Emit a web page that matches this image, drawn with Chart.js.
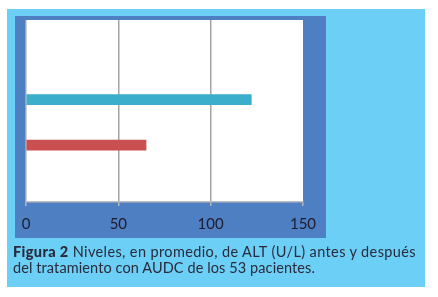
<!DOCTYPE html>
<html>
<head>
<meta charset="utf-8">
<script src="https://cdn.jsdelivr.net/npm/chart.js@4/dist/chart.umd.min.js"></script>
<style>
  html, body { margin: 0; padding: 0; background: #fff; }
  body { width: 438px; height: 297px; position: relative; overflow: hidden; }
  #grafica { position: absolute; left: 0; top: 0; }
  #caption { position: absolute; left: 13px; top: 244px; font-family: Lato, sans-serif;
             font-size: 14.5px; line-height: 16px; color: #2a2a3c; white-space: nowrap; }
  #caption b { font-weight: 900; }
  #l1 { letter-spacing: 0.38px; }
  #l2 { letter-spacing: 0.1px; }
</style>
</head>
<body>
<canvas id="grafica" width="438" height="297"></canvas>
<div id="caption"><div id="l1"><b>Figura 2</b> Niveles, en promedio, de ALT (U/L) antes y después</div><div id="l2">del tratamiento con AUDC de los 53 pacientes.</div></div>
<script>
// Categorías (posiciones en el eje; solo dos tienen barra)
const categorias = ['', '', '', 'Antes', '', 'Después', '', ''];
const valoresAntes = [null, null, null, 122, null, null, null, null];
const valoresDespues = [null, null, null, null, null, 65, null, null];
const ticksX = [0, 50, 100, 150];

// Marco cian, caja azul y fondo blanco del área de trazado
const fondos = {
    id: 'fondos',
    beforeDraw(chart) {
        const { ctx, chartArea: a } = chart;
        ctx.save();
        ctx.fillStyle = '#6ccff5';
        ctx.fillRect(7, 9, 418, 278);
        ctx.fillStyle = '#4f7fc3';
        ctx.fillRect(15, 16, 311, 222);
        ctx.fillStyle = '#ffffff';
        ctx.fillRect(a.left, a.top, a.right - a.left, a.bottom - a.top);
        ctx.restore();
    }
};

const ctx = document.getElementById('grafica').getContext('2d');
new Chart(ctx, {
    type: 'bar',
    data: {
        labels: categorias,
        datasets: [
            { label: 'Antes', data: valoresAntes, backgroundColor: '#3aaecb', barThickness: 10 },
            { label: 'Después', data: valoresDespues, backgroundColor: '#c9504f', barThickness: 10 }
        ]
    },
    options: {
        indexAxis: 'y',
        responsive: false,
        animation: false,
        layout: { padding: { left: 26, top: 20, right: 135, bottom: 59 } },
        plugins: { legend: { display: false }, tooltip: { enabled: false } },
        datasets: { bar: { grouped: false } },
        scales: {
            x: {
                min: 0, max: 150,
                afterBuildTicks: (axis) => { axis.ticks = ticksX.map(v => ({ value: v })); },
                afterFit: (axis) => { axis.height = 36; },
                grid: {
                    color: (c) => c.tick && c.tick.value === 150 ? 'rgba(0,0,0,0)' : '#a3a3a3',
                    lineWidth: 1.5,
                    tickLength: 4,
                    tickColor: '#b5b5b5'
                },
                border: { color: '#bdbdbd', width: 1.5 },
                ticks: { color: '#1c1c2c', font: { family: 'Lato', size: 15 }, padding: 9 }
            },
            y: { display: false }
        }
    },
    plugins: [fondos]
});
</script>
</body>
</html>
